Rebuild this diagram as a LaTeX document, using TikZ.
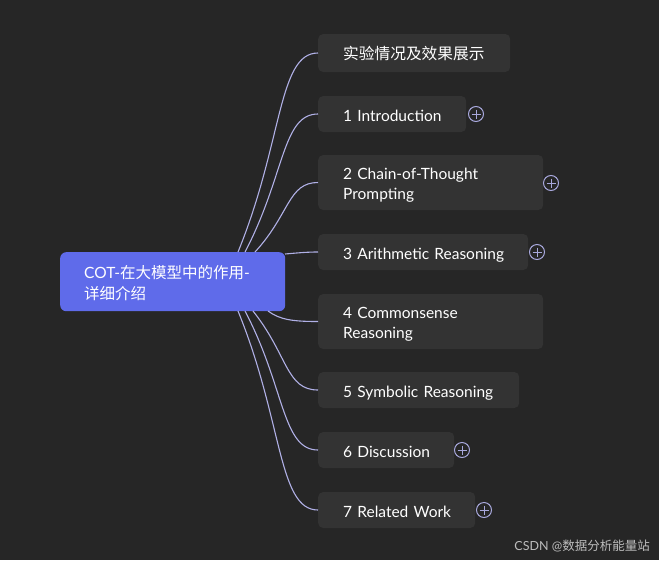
\documentclass[tikz,border=0pt]{standalone}
\usepackage{fontspec}
\setmainfont{Lato}
\newfontfamily\cjk{Noto Sans CJK SC}
\definecolor{bg}{HTML}{262626}
\definecolor{boxc}{HTML}{333333}
\definecolor{rootc}{HTML}{5F6BEA}
\definecolor{linec}{HTML}{B0B0E6}
\definecolor{plusc}{HTML}{A8A8DC}
\definecolor{wm}{HTML}{BDBDBD}
\begin{document}
\begin{tikzpicture}[x=1pt,y=-1pt,
  childbase/.style={fill=boxc, rounded corners=5pt, anchor=west, inner xsep=25pt, inner ysep=0pt,
     text=white, align=left, font=\fontsize{15.5}{19.5}\selectfont},
  child/.style={childbase, text height=14pt, text depth=0pt},
  twoline/.style={text depth=19.5pt},
  rootbox/.style={fill=rootc, rounded corners=6pt, anchor=north west, inner xsep=24pt, inner ysep=0pt,
     text=white, align=left, font=\fontsize{15.5}{21}\selectfont, minimum width=225pt, minimum height=59pt, text width=177pt,
     text height=14pt, text depth=21pt},
  conn/.style={draw=linec, line width=1.1pt},
  plusmark/.style={circle, draw=plusc, line width=1pt, minimum size=15pt, inner sep=0pt}
]
\useasboundingbox[fill=bg] (0,0) rectangle (659,560);

\node[rootbox] (root) at (60,252) {\mbox{COT-{\cjk 在大模型中的作用}-}\\{\cjk\mbox{详细介绍}}};

\node[childbase, minimum width=192pt, minimum height=38pt, text width=142pt, font=\cjk\fontsize{15.7}{19.5}\selectfont] (b0) at (318,53) {实验情况及效果展示};
\node[child, minimum width=148pt, minimum height=36pt, text width=98pt] (b1) at (318,114) {\mbox{1 Introduction}};
\node[child, twoline, minimum width=225pt, minimum height=55pt, text width=175pt] (b2) at (318,182.5) {\mbox{2 Chain-of-Thought}\\\mbox{Prompting}};
\node[child, minimum width=210pt, minimum height=36pt, text width=160pt] (b3) at (318,252) {\mbox{3 Arithmetic Reasoning}};
\node[child, twoline, minimum width=225pt, minimum height=55pt, text width=175pt] (b4) at (318,321.5) {\mbox{4 Commonsense}\\\mbox{Reasoning}};
\node[child, minimum width=201pt, minimum height=36pt, text width=151pt] (b5) at (318,390) {\mbox{5 Symbolic Reasoning}};
\node[child, minimum width=136pt, minimum height=36pt, text width=86pt] (b6) at (318,450) {\mbox{6 Discussion}};
\node[child, minimum width=157pt, minimum height=36pt, text width=107pt] (b7) at (318,510) {\mbox{7 Related Work}};

\coordinate (s0) at (238,252);
\coordinate (s1) at (245,252);
\coordinate (s2) at (255,252);
\coordinate (s3) at (285,254);
\coordinate (s4) at (268,311);
\coordinate (s5) at (253,311);
\coordinate (s6) at (245,311);
\coordinate (s7) at (238,311);

\draw[conn] (s0) .. controls +(45,-110) and +(-40,0) .. (b0.west);
\draw[conn] (s1) .. controls +(40,-76) and +(-36,0) .. (b1.west);
\draw[conn] (s2) .. controls +(35,-38) and +(-30,0) .. (b2.west);
\draw[conn] (s3) .. controls +(12,-1) and +(-12,0) .. (b3.west);
\draw[conn] (s4) .. controls +(12,9) and +(-24,0) .. (b4.west);
\draw[conn] (s5) .. controls +(35,44) and +(-32,0) .. (b5.west);
\draw[conn] (s6) .. controls +(40,76) and +(-36,0) .. (b6.west);
\draw[conn] (s7) .. controls +(45,110) and +(-40,0) .. (b7.west);

\foreach \n/\x/\y in {p1/476/114, p2/551/183, p3/537/252, p6/462/450, p7/484/510}{
  \node[plusmark] (\n) at (\x,\y) {};
  \draw[plusc, line width=1pt] (\n.center) +(-4.5,0) -- +(4.5,0);
  \draw[plusc, line width=1pt] (\n.center) +(0,-4.5) -- +(0,4.5);
}

\node[anchor=east, text=wm, inner sep=0pt, font=\fontsize{12.5}{14}\selectfont] (wmark) at (650,546) {CSDN @{\cjk 数据分析能量站}};
\end{tikzpicture}
\end{document}
